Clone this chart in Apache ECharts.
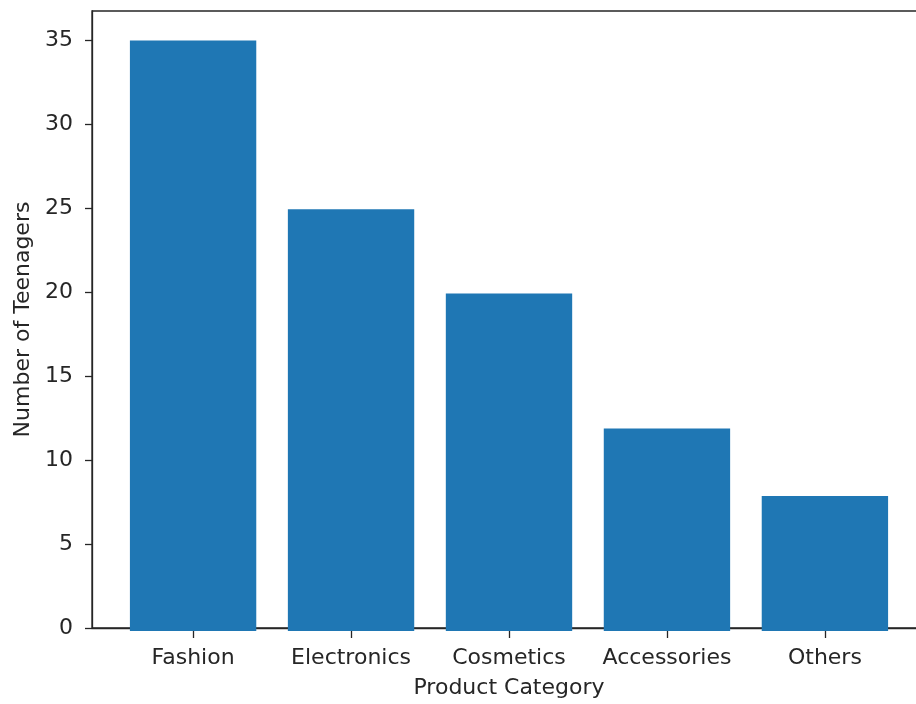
<!DOCTYPE html>
<html>
<head>
<meta charset="utf-8">
<script src="https://cdn.jsdelivr.net/npm/echarts@6/dist/echarts.min.js"></script>
<style>
  html, body { margin: 0; padding: 0; background: #fff; overflow: hidden; }
  /* the plot frame runs past the right edge of the picture, so the canvas is wider than the window */
  #chart { width: 950px; height: 704px; }
</style>
</head>
<body>
<div id="chart"></div>
<script>
// data
const categories = ["Fashion", "Electronics", "Cosmetics", "Accessories", "Others"];
const teenagers = [35, 25, 20, 12, 8];

// matplotlib-like limits: bars 0.8 wide, 5% margins
const xMin = -0.64;
const xMax = categories.length - 1 + 0.64;
const yMax = 36.75;

const frame = {left: 92, top: 11, width: 834, height: 620};
const unit = frame.width / (xMax - xMin);
// inner grid holding the category bands (-0.5 .. n-0.5)
const bands = {
  left: frame.left + (-0.5 - xMin) * unit,
  top: frame.top,
  width: categories.length * unit,
  height: frame.height
};

const font = "DejaVu Sans";
const textColor = "#262626";
const lineColor = "#262626";

const chart = echarts.init(document.getElementById("chart"));

chart.setOption({
  animation: false,
  backgroundColor: "#fff",
  grid: [
    Object.assign({show: true, borderColor: lineColor, borderWidth: 1.3, backgroundColor: "transparent"}, frame),
    bands
  ],
  xAxis: [{
    gridIndex: 0,
    type: "value",
    min: 0, max: 1,
    splitLine: {show: false},
    axisLine: {show: true, lineStyle: {color: lineColor, width: 1.3}},
    axisTick: {show: false},
    axisLabel: {show: false},
    name: "Product Category",
    nameLocation: "middle",
    nameGap: 49,
    nameTextStyle: {fontFamily: font, fontSize: 22, color: textColor}
  }, {
    gridIndex: 1,
    type: "category",
    data: categories,
    axisLine: {show: false},
    axisTick: {show: true, interval: 0, alignWithLabel: true, length: 7, lineStyle: {color: lineColor, width: 1.3}},
    axisLabel: {interval: 0, fontFamily: font, fontSize: 22, color: textColor, margin: 16}
  }],
  yAxis: [{
    gridIndex: 0,
    type: "value",
    min: 0, max: yMax, interval: 5,
    splitLine: {show: false},
    axisLine: {show: true, lineStyle: {color: lineColor, width: 1.3}},
    axisTick: {show: true, length: 7, lineStyle: {color: lineColor, width: 1.3}},
    axisLabel: {
      fontFamily: font, fontSize: 22, color: textColor, margin: 19,
      showMaxLabel: false
    },
    name: "Number of Teenagers",
    nameLocation: "middle",
    nameGap: 58,
    nameTextStyle: {fontFamily: font, fontSize: 22, color: textColor}
  }, {
    gridIndex: 1,
    type: "value",
    min: 0, max: yMax,
    show: false
  }],
  series: [{
    type: "bar",
    xAxisIndex: 1,
    yAxisIndex: 1,
    data: teenagers,
    barCategoryGap: "20%",
    itemStyle: {color: "#1f77b4"}
  }]
});
</script>
</body>
</html>
